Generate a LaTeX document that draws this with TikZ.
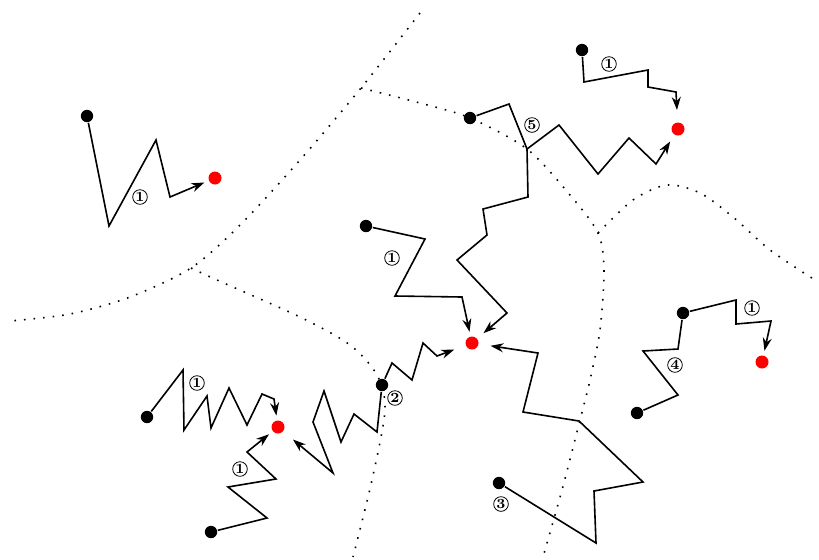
\documentclass[tikz,border=0pt]{standalone}
\usetikzlibrary{arrows.meta}

\begin{document}
\begin{tikzpicture}[x=0.5pt, y=-0.5pt, thick,
  src/.style = {circle, fill, inner sep=0pt, minimum size=6.2pt},
  sink/.style = {circle, fill=red, inner sep=0pt, minimum size=6.5pt, outer sep=2.5pt},
  num/.style = {circle, draw, line width=0.4pt, inner sep=0.3pt, minimum size=7pt, font=\scriptsize\bfseries},
  walk/.style = {-{Stealth[length=6.5pt, width=4.5pt]}},
  border/.style = {loosely dotted, line width=0.8pt}]
\useasboundingbox (0,0) rectangle (819,559);

% borders
\coordinate (j1) at (361,88);
\coordinate (j2) at (191,268);
\coordinate (j3) at (598,233);
\draw[border] plot[smooth] coordinates {(420,13) (j1) (300,160) (240,225) (j2) (130,297) (70,314) (10,321)};
\draw[border] plot[smooth] coordinates {(j1) (420,103) (470,118) (527,149) (570,195) (j3) (604,270) (600,330) (590,380) (580,420) (562,490) (543,557)};
\draw[border] plot[smooth] coordinates {(j2) (217,280) (300,317) (350,345) (377,375) (385,410) (372,480) (353,557)};
\draw[border] plot[smooth] coordinates {(j3) (633,200) (667,185) (700,193) (733,217) (770,250) (815,280)};

% targets
\node[sink] (t1) at (215,178) {};
\node[sink] (t2) at (678,129) {};
\node[sink] (t3) at (472,343) {};
\node[sink] (t4) at (278,427) {};
\node[sink] (t5) at (762,362) {};

% walkers
\node[src] (a1) at (87,116) {};
\node[src] (b1) at (582,50) {};
\node[src] (c1) at (470,118) {};
\node[src] (d1) at (366,226) {};
\node[src] (e1) at (382,385) {};
\node[src] (f1) at (147,417) {};
\node[src] (g1) at (211,532) {};
\node[src] (h1) at (499,483) {};
\node[src] (i1) at (637,413) {};
\node[src] (i2) at (683,313) {};
\coordinate (c2) at (527,149);

\draw[walk] (a1) -- (109,226) -- (156,140) -- (170,197) -- (t1);
\draw[walk, shorten >=3.8pt] (b1) -- (584,82) -- (648,70) -- (648,87) -- (676,92) -- (t2);
\draw (c1) -- (509,104) -- (c2);
\draw[walk, shorten >=1.6pt] (c2) -- (559,125) -- (598,174) -- (629,138) -- (656,164) -- (t2);
\draw[walk, shorten >=1.8pt] (c2) -- (528,197) -- (483,209) -- (487,235) -- (457,260) -- (507,313) -- (t3);
\draw[walk] (d1) -- (425,239) -- (395,296) -- (462,297) -- (t3);
\draw[walk, shorten >=3.7pt] (e1) -- (392,363) -- (412,380) -- (423,343) -- (437,356) -- (t3);
\draw[walk, shorten >=4pt] (e1) -- (377,432) -- (354,414) -- (341,442) -- (324,391) -- (313,422) -- (333,473) -- (t4);
\draw[walk] (f1) -- (183,370) -- (184,430) -- (207,396) -- (211,428) -- (229,388) -- (247,425) -- (262,394) -- (274,399) -- (t4);
\draw[walk] (g1) -- (267,518) -- (228,487) -- (276,479) -- (247,452) -- (t4);
\draw[walk, shorten >=3.6pt] (h1) -- (596,543) -- (594,491) -- (643,482) -- (579,421) -- (523,412) -- (538,353) -- (t3);
\draw (i1) -- (678,395) -- (643,351) -- (678,349) -- (i2);
\draw[walk] (i2) -- (736,300) -- (736,324) -- (771,321) -- (t5);

% step counts
\node[num] (n1) at (140,197) {1};
\node[num] (n2) at (609,64) {1};
\node[num] (n3) at (532,125) {5};
\node[num] (n4) at (392,258) {1};
\node[num] (n5) at (395,398) {2};
\node[num] (n6) at (197,383) {1};
\node[num] (n7) at (240,469) {1};
\node[num] (n8) at (501,504) {3};
\node[num] (n9) at (675,365) {4};
\node[num] (n10) at (752,308) {1};
\end{tikzpicture}
\end{document}
